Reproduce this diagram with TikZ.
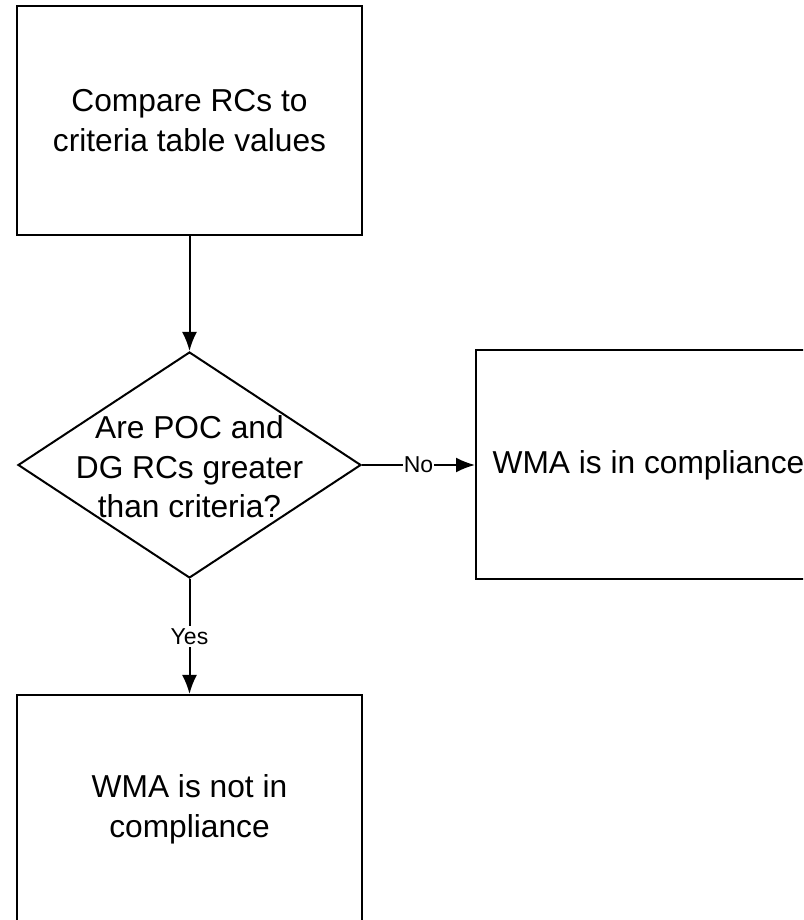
\documentclass[tikz,border=0pt]{standalone}
\usepackage{fontspec}
\setmainfont{Liberation Sans}
\usetikzlibrary{shapes.geometric,arrows.meta}
\begin{document}
\begin{tikzpicture}[x=1pt,y=1pt,line width=2pt,
  every node/.style={font=\fontsize{31.7}{39.5}\selectfont, align=center},
  >={Latex[length=19pt,width=15pt]}]
  \useasboundingbox (0,0) rectangle (803,920);
  \clip (0,0) rectangle (803,920);

  \node[draw, minimum width=345pt, minimum height=229pt] at (189.5, 799.5) (compare) {Compare RCs to\\criteria table values};
  \node[draw, diamond, minimum width=343pt, minimum height=226pt, inner sep=0pt] at (189.5, 455) (check) {};
  \node at (189.5, 453) (question) {Are POC and\\DG RCs greater\\than criteria?};
  \node[draw, minimum width=345pt, minimum height=229pt] at (648.5, 455) (comply) {WMA is in compliance};
  \node[draw, minimum width=345pt, minimum height=229pt] at (189.5, 110.5) (notcomply) {WMA is not in\\compliance};

  \draw (compare) edge[->] (check);
  \draw (check.east) edge[->] node[fill=white, inner sep=1pt, font=\fontsize{23}{26}\selectfont] {No} (comply);
  \draw (check.south) edge[->] node[fill=white, inner sep=2pt, font=\fontsize{23}{26}\selectfont] {Yes} (notcomply);
\end{tikzpicture}
\end{document}
